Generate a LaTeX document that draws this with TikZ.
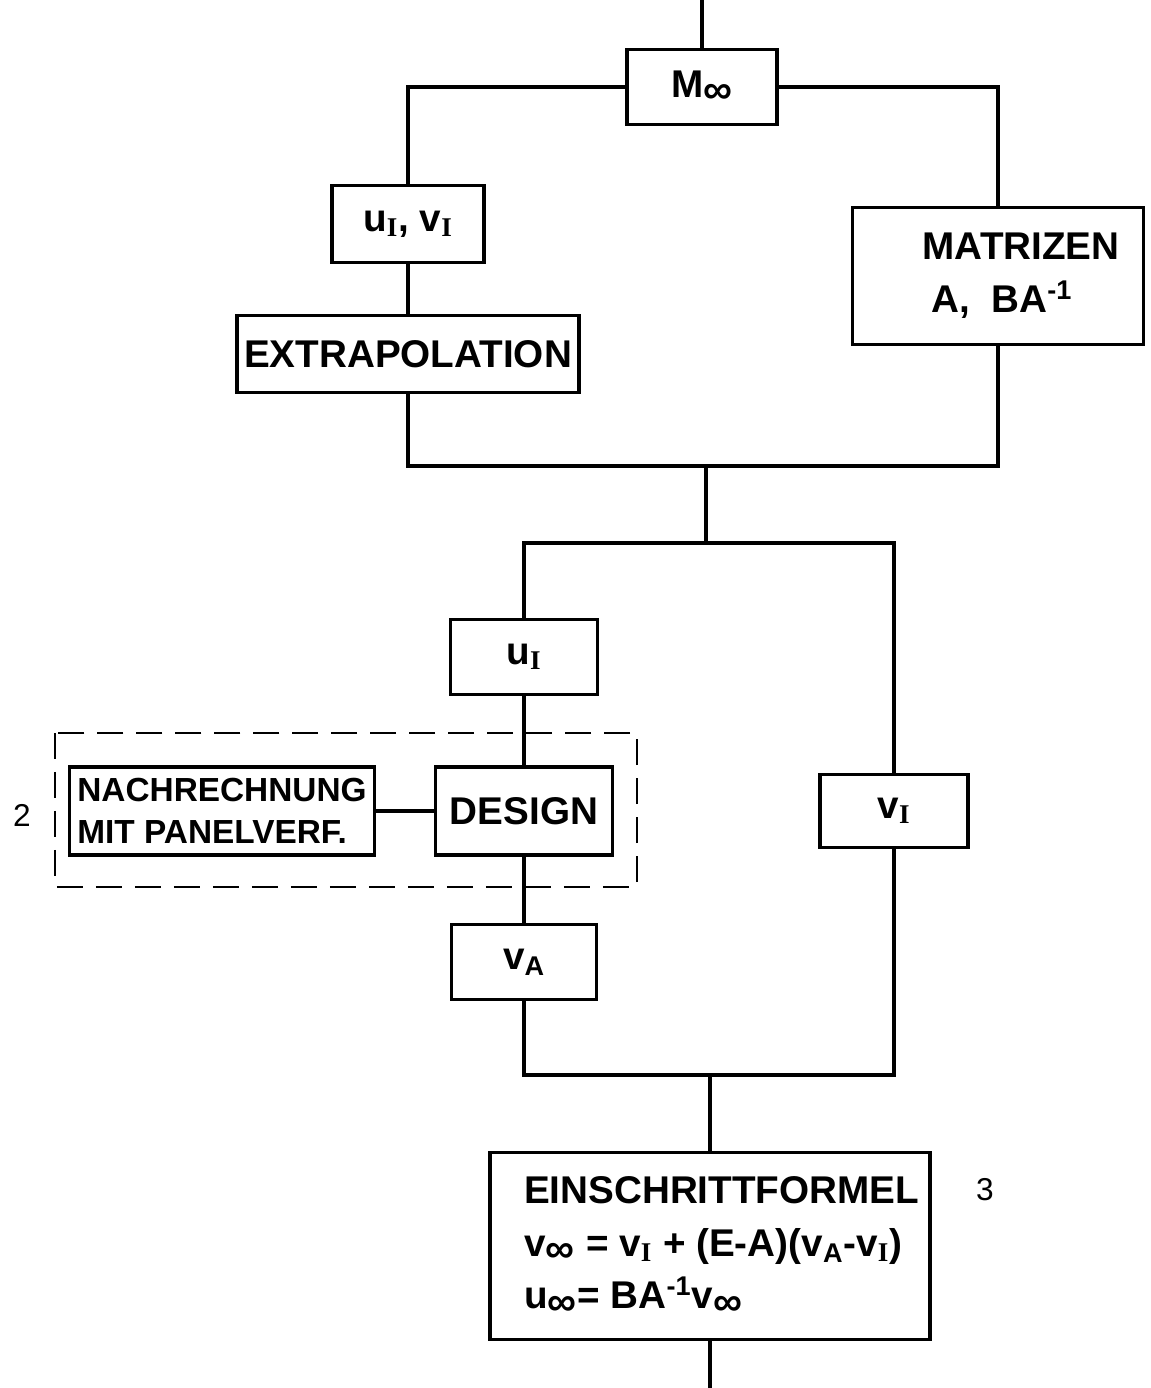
\documentclass[tikz,border=0pt]{standalone}
\usepackage{fontspec}
\setmainfont{Liberation Sans}
\newfontfamily\serifI{Liberation Serif}
\newcommand{\sI}{\textsubscript{\serifI\bfseries I}}
\newcommand{\sinf}{\textsubscript{\scalebox{1.5}{∞}}}
\begin{document}
\begin{tikzpicture}[x=0.02cm,y=-0.02cm,
    block/.style={draw,line width=2.2pt,inner sep=0pt,align=center,
      font=\fontsize{22}{30}\selectfont\bfseries},
    wire/.style={line width=1.8pt},
    group/.style={line width=1.6pt,dash pattern=on 0.52cm off 0.26cm},
    numlabel/.style={font=\fontsize{18}{20}\selectfont}]
\useasboundingbox (0,0) rectangle (1150,1388);

\node[block,minimum width=3cm,minimum height=1.5cm] (minf) at (702,87) {M\sinf};
\node[block,minimum width=3.04cm,minimum height=1.54cm] (uv) at (408,224) {u\sI, v\sI};
\node[block,minimum width=6.84cm,minimum height=1.54cm] (extra) at (408,354) {EXTRAPOLATION};
\node[block,minimum width=5.82cm,minimum height=2.74cm] (matr) at (998,276)
  {\hspace*{1.2em}MATRIZEN\\\hspace*{0.2em}A,\ \ BA\textsuperscript{-1}};

\node[block,minimum width=2.94cm,minimum height=1.5cm] (uI) at (524,657) {u\sI};
\node[block,minimum width=3.54cm,minimum height=1.76cm] (design) at (524,811) {DESIGN};
\node[block,minimum width=6.1cm,minimum height=1.76cm,align=left,
  font=\fontsize{19}{24}\selectfont\bfseries] (nach) at (222,811) {NACHRECHNUNG\\MIT PANELVERF.};
\node[block,minimum width=2.9cm,minimum height=1.5cm] (vA) at (524,962) {v\textsubscript{A}};
\node[block,minimum width=2.96cm,minimum height=1.46cm] (vI) at (894,811) {v\sI};
\node[block,minimum width=8.8cm,minimum height=3.74cm,align=left] (einsch) at (710,1246)
  {\hspace*{0.6em}EINSCHRITTFORMEL\\
   \hspace*{0.6em}v\sinf\ = v\sI\ + (E-A)(v\textsubscript{A}-v\sI)\\
   \hspace*{0.6em}u\sinf = BA\textsuperscript{-1}v\sinf};

\node[numlabel] (lbl2) at (22,815) {2};
\node[numlabel] (lbl3) at (985,1190) {3};

\draw[group] (55,733) rectangle (637,887);

\coordinate (top) at (702,0);
\coordinate (j1) at (706,466);
\coordinate (j2) at (706,543);
\coordinate (j3) at (710,1075);
\coordinate (bottom) at (710,1388);

\draw[wire] (top) -- (minf.north);
\draw[wire] (minf.west) -| (uv.north);
\draw[wire] (minf.east) -| (matr.north);
\draw[wire] (uv.south) -- (extra.north);
\draw[wire] (extra.south) |- (j1) -| (matr.south);
\draw[wire] (j1) -- (j2);
\draw[wire] (uI.north) |- (j2) -| (vI.north);
\draw[wire] (uI.south) -- (design.north);
\draw[wire] (nach.east) -- (design.west);
\draw[wire] (design.south) -- (vA.north);
\draw[wire] (vA.south) |- (j3) -| (vI.south);
\draw[wire] (j3) -- (einsch.north);
\draw[wire] (einsch.south) -- (bottom);
\end{tikzpicture}
\end{document}
